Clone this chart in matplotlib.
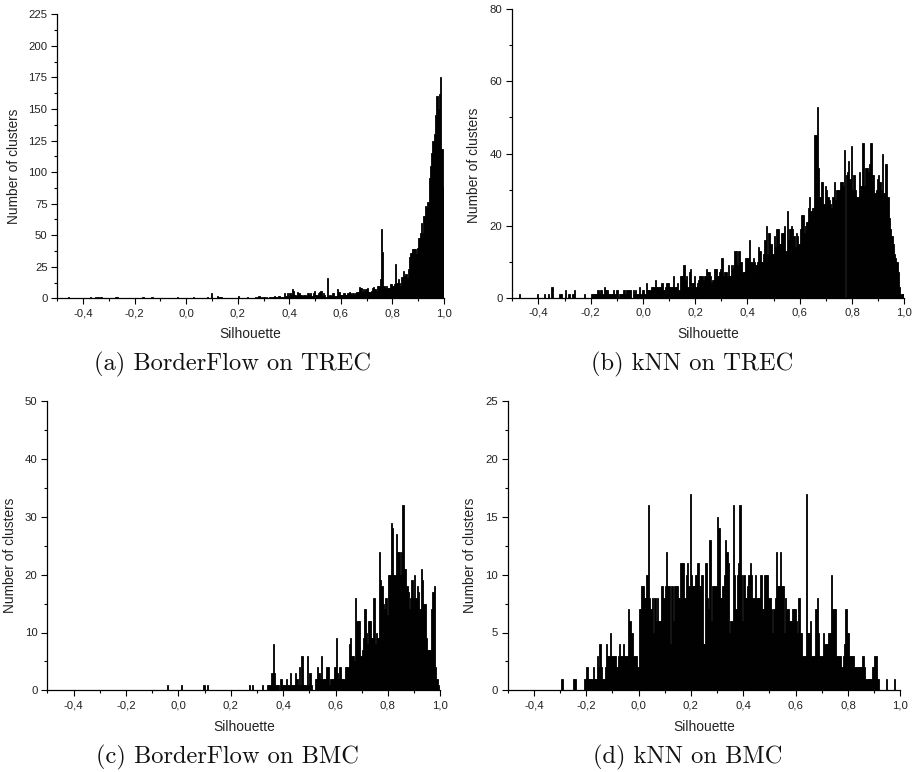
import numpy as np
import matplotlib
matplotlib.use('Agg')
import matplotlib.pyplot as plt
from matplotlib.ticker import FixedLocator, NullFormatter

W, H = 917, 772

# one value per 0.005 bin from -0.5 up to 1.0, each line is a 0.1 stretch
counts_a = [
    0,0,0,0,0,0,0,0,1,0,0,0,0,0,0,0,0,0,0,0,
    0,0,0,0,0,1,0,0,0,1,0,1,0,1,1,0,0,0,0,0,
    0,0,0,0,0,1,1,0,0,0,0,0,0,0,0,0,0,0,0,0,
    0,0,0,0,0,0,1,0,0,0,0,0,0,1,0,0,0,0,0,0,
    0,0,0,0,0,0,0,0,0,0,0,0,0,1,0,0,0,0,0,0,
    0,0,0,0,0,1,0,0,0,0,0,0,0,0,0,0,1,0,0,4,
    0,0,0,0,2,1,1,1,0,0,0,0,0,0,0,0,0,0,0,0,
    2,0,0,0,0,0,0,1,0,0,0,0,0,1,0,1,2,1,0,1,
    1,0,1,0,1,1,1,1,2,1,1,2,2,1,1,1,4,2,4,2,
    4,3,7,6,3,2,5,4,3,3,2,3,3,2,4,3,4,2,4,6,
    3,3,4,5,6,2,4,3,1,16,2,3,2,4,4,2,2,7,5,3,
    3,3,4,3,3,4,5,4,3,4,3,4,5,5,9,8,5,7,6,7,
    8,5,5,6,8,9,7,6,10,10,15,55,37,10,8,10,8,8,11,11,
    10,11,27,12,15,12,10,17,22,18,19,16,23,33,36,39,39,39,35,40,
    48,52,60,52,65,73,72,76,95,105,115,125,130,145,160,150,162,175,118,88,
]
counts_b = [
    0,0,0,0,0,1,0,0,0,0,0,0,0,0,0,0,0,0,0,1,
    0,0,0,0,1,0,0,1,0,0,3,0,0,0,0,0,1,1,0,0,
    2,0,0,1,0,0,1,2,0,0,0,0,0,0,0,1,0,0,0,0,
    1,1,1,1,1,2,1,2,2,1,3,2,2,1,1,1,1,2,1,2,
    2,0,1,1,1,2,1,2,2,2,2,0,2,1,2,1,1,3,1,2,
    2,1,4,2,2,2,3,3,3,5,3,3,3,3,4,2,2,3,4,4,
    3,3,3,6,3,3,4,2,6,6,6,9,5,6,3,7,8,4,4,6,
    3,4,5,6,6,6,5,6,8,7,7,6,4,5,8,8,8,6,7,8,
    11,6,7,7,6,9,6,9,8,9,13,13,9,13,10,10,7,7,11,11,
    11,16,10,10,11,10,9,10,14,13,10,10,12,16,20,12,18,15,15,12,
    17,14,19,19,15,15,18,18,20,13,24,16,19,20,19,17,14,18,17,15,
    19,23,23,18,20,21,25,28,24,25,25,45,45,53,36,28,32,32,26,31,
    30,28,27,26,25,28,32,27,30,30,30,32,32,31,41,34,35,38,33,42,
    30,34,30,28,28,35,31,31,43,31,36,36,35,37,43,34,34,29,30,33,
    34,32,30,40,29,37,37,28,22,19,17,15,12,11,10,7,3,1,1,1,
]
counts_c = [
    0,0,0,0,0,0,0,0,0,0,0,0,0,0,0,0,0,0,0,0,
    0,0,0,0,0,0,0,0,0,0,0,0,0,0,0,0,0,0,0,0,
    0,0,0,0,0,0,0,0,0,0,0,0,0,0,0,0,0,0,0,0,
    0,0,0,0,0,0,0,0,0,0,0,0,0,0,0,0,0,0,0,0,
    0,0,0,0,0,0,0,0,0,0,0,1,0,0,0,0,0,0,0,0,
    0,0,1,0,0,0,0,0,0,0,0,0,0,0,0,0,0,0,0,1,
    0,0,1,0,0,0,0,0,0,0,0,0,0,0,0,0,0,0,0,0,
    0,0,0,0,0,0,0,0,0,0,0,0,0,0,1,0,1,0,0,0,
    0,0,0,0,1,0,0,0,1,1,1,3,8,3,1,1,1,0,2,1,
    1,1,2,1,1,3,1,1,1,3,2,1,4,1,6,1,1,1,6,1,
    3,1,0,0,2,2,4,3,2,6,2,2,2,4,4,1,2,2,2,4,
    9,3,2,4,2,2,2,4,4,4,8,9,6,6,5,16,12,12,12,6,
    7,9,14,10,8,12,12,9,9,16,8,10,9,24,19,18,15,14,16,13,
    20,20,29,28,20,20,27,24,24,20,24,32,21,21,18,17,14,16,19,16,
    20,16,18,17,14,21,19,15,15,9,7,7,7,14,17,18,4,2,1,0,
]
counts_d = [
    0,0,0,0,0,0,0,0,0,0,0,0,0,0,0,0,0,0,0,0,
    0,0,0,0,0,0,0,0,0,0,0,0,0,0,0,0,0,0,0,0,
    0,1,0,0,0,0,0,0,0,0,1,1,0,0,0,0,0,0,1,1,
    2,1,1,1,1,2,1,1,3,2,4,2,1,1,2,4,3,3,5,3,
    3,3,3,2,3,4,3,3,4,3,3,3,7,6,5,5,3,3,3,2,
    7,7,9,9,8,8,10,16,8,7,8,5,8,6,8,6,6,9,9,8,
    9,12,9,9,4,9,6,9,9,9,8,8,11,11,11,8,10,11,9,17,
    10,9,9,10,10,11,9,9,10,4,4,11,8,7,13,6,9,9,9,9,
    15,14,8,8,9,10,13,12,11,5,6,6,16,10,7,10,11,16,10,6,
    10,8,8,9,10,11,10,8,8,10,8,8,8,10,7,7,10,10,10,8,
    8,7,5,7,8,12,9,9,12,9,9,5,8,7,7,6,6,7,7,7,
    6,5,8,5,5,3,3,3,17,5,5,6,3,3,3,7,8,5,3,3,
    3,5,4,4,4,5,5,10,7,7,7,3,3,3,3,2,3,4,7,5,
    5,3,3,3,3,2,2,2,2,2,2,3,2,1,1,1,1,1,2,2,
    3,3,1,1,0,0,0,0,0,1,0,0,0,0,0,1,0,0,0,0,
]

x_ticks = [-0.4, -0.2, 0.0, 0.2, 0.4, 0.6, 0.8, 1.0]
x_labels = ['-0,4', '-0,2', '0,0', '0,2', '0,4', '0,6', '0,8', '1,0']
x_minor = [-0.5, -0.3, -0.1, 0.1, 0.3, 0.5, 0.7, 0.9]
captions = ['(a) BorderFlow on TREC', '(b) kNN on TREC', '(c) BorderFlow on BMC', '(d) kNN on BMC']

# left, right, top, bottom of each plot in pixels
boxes = [(57.3, 444, 14.3, 298.3), (512.3, 904.3, 9.3, 297.7),
         (47.3, 440.3, 401.3, 690.3), (507.7, 900.3, 401.3, 690.3)]
y_tops = [225, 80, 50, 25]
y_steps = [25, 20, 10, 5]
# x of y label, y of y label, y of x label, y of caption, caption centre
label_pos = [(14, 166, 334, 364, 232), (474, 165, 334, 364, 692),
             (10, 555, 727, 757, 227), (470, 555, 727, 757, 688)]

sans = ['Liberation Sans', 'DejaVu Sans']

fig = plt.figure(figsize=(W / 100, H / 100), dpi=100)


def ftext(px, py, s, **kw):
    fig.text(px / W, 1 - py / H, s, ha='center', va='center', **kw)


for i, counts in enumerate([counts_a, counts_b, counts_c, counts_d]):
    assert len(counts) == 300
    l, r, t, b = boxes[i]
    ax = fig.add_axes([l / W, 1 - b / H, (r - l) / W, (b - t) / H])
    x = -0.5 + 0.005 * np.arange(300) + 0.0025
    ax.bar(x, counts, width=0.005, color='black', linewidth=0.6, edgecolor='black')
    ax.set_xlim(-0.5, 1.0)
    ax.set_ylim(0, y_tops[i])
    ax.spines['top'].set_visible(False)
    ax.spines['right'].set_visible(False)
    ax.spines['left'].set_linewidth(0.9)
    ax.spines['bottom'].set_linewidth(0.9)
    ax.set_xticks(x_ticks)
    ax.set_xticklabels(x_labels)
    ax.xaxis.set_minor_locator(FixedLocator(x_minor))
    yt = np.arange(0, y_tops[i] + 1, y_steps[i])
    ax.set_yticks(yt)
    ax.yaxis.set_minor_locator(FixedLocator(yt[:-1] + y_steps[i] / 2))
    ax.yaxis.set_minor_formatter(NullFormatter())
    ax.tick_params(which='major', length=4, width=0.8, labelsize=8.2, pad=3)
    ax.tick_params(which='minor', length=2, width=0.8)
    for lab in ax.get_xticklabels() + ax.get_yticklabels():
        lab.set_family(sans)
        lab.set_color('#222222')

    yx, yy, xy, cy, cx = label_pos[i]
    ftext(yx, yy, 'Number of clusters', rotation=90, fontsize=9.9, family=sans, color='#222222')
    ftext((l + r) / 2, xy, 'Silhouette', fontsize=9.9, family=sans, color='#222222')
    ftext(cx, cy, captions[i], fontsize=17.6, family=['cmr10', 'DejaVu Serif'], color='#111111')

fig.savefig('out.png', dpi=100)
